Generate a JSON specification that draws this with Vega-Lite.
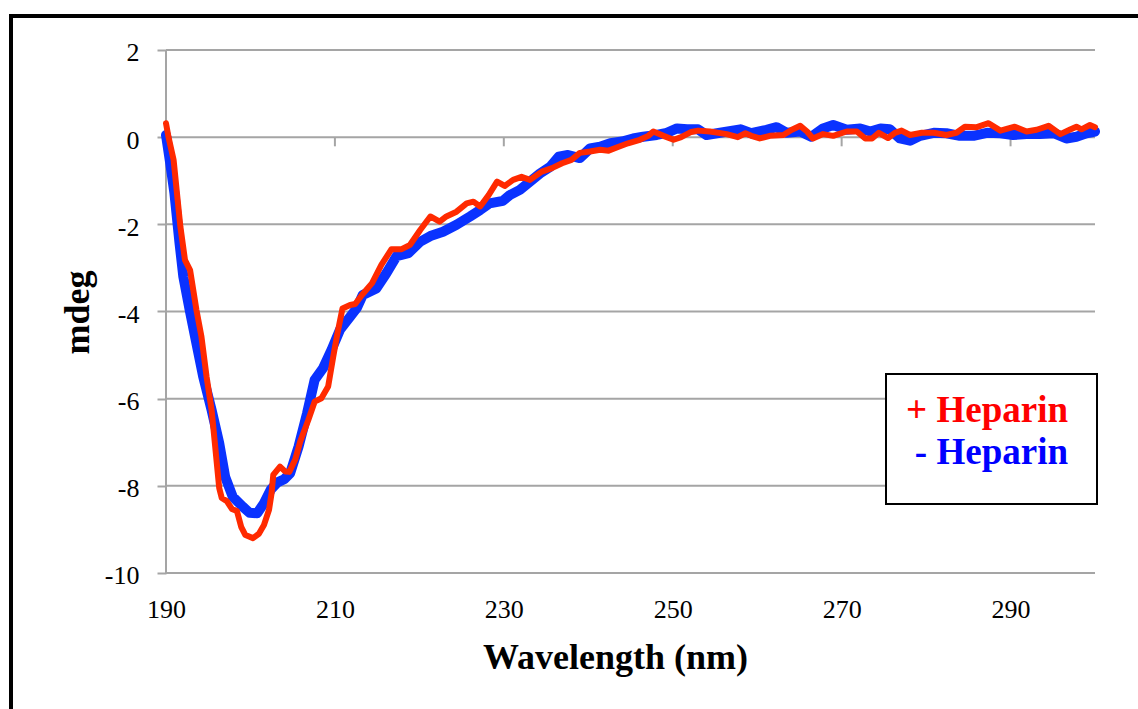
{
  "$schema": "https://vega.github.io/schema/vega-lite/v6.json",
  "width": 1127,
  "height": 693,
  "autosize": {"type": "none"},
  "padding": {"left": 11, "top": 16, "right": 0, "bottom": 0},
  "background": "white",
  "view": {"stroke": "#000000", "strokeWidth": 4, "strokeDash": [1127, 1820, 693, 1], "strokeCap": "square", "fill": "white"},
  "datasets": {
    "cd": [
      {"nm": 190.0, "mdeg": 0.05, "series": "- Heparin"},
      {"nm": 190.5, "mdeg": -0.6, "series": "- Heparin"},
      {"nm": 191.0, "mdeg": -1.29, "series": "- Heparin"},
      {"nm": 191.6, "mdeg": -2.43, "series": "- Heparin"},
      {"nm": 192.05, "mdeg": -3.2, "series": "- Heparin"},
      {"nm": 192.8, "mdeg": -3.96, "series": "- Heparin"},
      {"nm": 193.6, "mdeg": -4.73, "series": "- Heparin"},
      {"nm": 194.4, "mdeg": -5.49, "series": "- Heparin"},
      {"nm": 195.4, "mdeg": -6.26, "series": "- Heparin"},
      {"nm": 196.3, "mdeg": -7.02, "series": "- Heparin"},
      {"nm": 197.0, "mdeg": -7.79, "series": "- Heparin"},
      {"nm": 197.9, "mdeg": -8.25, "series": "- Heparin"},
      {"nm": 199.1, "mdeg": -8.48, "series": "- Heparin"},
      {"nm": 199.9, "mdeg": -8.62, "series": "- Heparin"},
      {"nm": 200.8, "mdeg": -8.63, "series": "- Heparin"},
      {"nm": 201.6, "mdeg": -8.4, "series": "- Heparin"},
      {"nm": 202.4, "mdeg": -8.09, "series": "- Heparin"},
      {"nm": 203.2, "mdeg": -7.92, "series": "- Heparin"},
      {"nm": 204.0, "mdeg": -7.85, "series": "- Heparin"},
      {"nm": 204.7, "mdeg": -7.71, "series": "- Heparin"},
      {"nm": 205.7, "mdeg": -7.1, "series": "- Heparin"},
      {"nm": 206.7, "mdeg": -6.34, "series": "- Heparin"},
      {"nm": 207.6, "mdeg": -5.57, "series": "- Heparin"},
      {"nm": 208.6, "mdeg": -5.3, "series": "- Heparin"},
      {"nm": 209.6, "mdeg": -4.88, "series": "- Heparin"},
      {"nm": 210.6, "mdeg": -4.42, "series": "- Heparin"},
      {"nm": 211.8, "mdeg": -4.12, "series": "- Heparin"},
      {"nm": 212.6, "mdeg": -3.92, "series": "- Heparin"},
      {"nm": 213.3, "mdeg": -3.62, "series": "- Heparin"},
      {"nm": 214.9, "mdeg": -3.47, "series": "- Heparin"},
      {"nm": 216.1, "mdeg": -3.12, "series": "- Heparin"},
      {"nm": 217.3, "mdeg": -2.73, "series": "- Heparin"},
      {"nm": 218.7, "mdeg": -2.66, "series": "- Heparin"},
      {"nm": 220.1, "mdeg": -2.4, "series": "- Heparin"},
      {"nm": 221.3, "mdeg": -2.27, "series": "- Heparin"},
      {"nm": 222.8, "mdeg": -2.17, "series": "- Heparin"},
      {"nm": 224.4, "mdeg": -2.01, "series": "- Heparin"},
      {"nm": 226.0, "mdeg": -1.82, "series": "- Heparin"},
      {"nm": 227.2, "mdeg": -1.67, "series": "- Heparin"},
      {"nm": 228.3, "mdeg": -1.52, "series": "- Heparin"},
      {"nm": 229.9, "mdeg": -1.46, "series": "- Heparin"},
      {"nm": 230.7, "mdeg": -1.33, "series": "- Heparin"},
      {"nm": 231.9, "mdeg": -1.21, "series": "- Heparin"},
      {"nm": 233.1, "mdeg": -1.02, "series": "- Heparin"},
      {"nm": 234.3, "mdeg": -0.83, "series": "- Heparin"},
      {"nm": 235.5, "mdeg": -0.68, "series": "- Heparin"},
      {"nm": 236.5, "mdeg": -0.45, "series": "- Heparin"},
      {"nm": 237.6, "mdeg": -0.41, "series": "- Heparin"},
      {"nm": 239.0, "mdeg": -0.48, "series": "- Heparin"},
      {"nm": 240.2, "mdeg": -0.26, "series": "- Heparin"},
      {"nm": 241.4, "mdeg": -0.22, "series": "- Heparin"},
      {"nm": 242.6, "mdeg": -0.14, "series": "- Heparin"},
      {"nm": 244.0, "mdeg": -0.1, "series": "- Heparin"},
      {"nm": 245.3, "mdeg": -0.03, "series": "- Heparin"},
      {"nm": 246.5, "mdeg": 0.01, "series": "- Heparin"},
      {"nm": 248.1, "mdeg": 0.05, "series": "- Heparin"},
      {"nm": 249.3, "mdeg": 0.1, "series": "- Heparin"},
      {"nm": 250.5, "mdeg": 0.2, "series": "- Heparin"},
      {"nm": 251.7, "mdeg": 0.18, "series": "- Heparin"},
      {"nm": 253.0, "mdeg": 0.18, "series": "- Heparin"},
      {"nm": 254.0, "mdeg": 0.05, "series": "- Heparin"},
      {"nm": 255.6, "mdeg": 0.1, "series": "- Heparin"},
      {"nm": 258.0, "mdeg": 0.18, "series": "- Heparin"},
      {"nm": 259.3, "mdeg": 0.09, "series": "- Heparin"},
      {"nm": 261.1, "mdeg": 0.17, "series": "- Heparin"},
      {"nm": 262.3, "mdeg": 0.23, "series": "- Heparin"},
      {"nm": 263.5, "mdeg": 0.1, "series": "- Heparin"},
      {"nm": 265.1, "mdeg": 0.13, "series": "- Heparin"},
      {"nm": 266.4, "mdeg": 0.01, "series": "- Heparin"},
      {"nm": 267.8, "mdeg": 0.2, "series": "- Heparin"},
      {"nm": 269.0, "mdeg": 0.28, "series": "- Heparin"},
      {"nm": 270.6, "mdeg": 0.17, "series": "- Heparin"},
      {"nm": 272.2, "mdeg": 0.2, "series": "- Heparin"},
      {"nm": 273.4, "mdeg": 0.13, "series": "- Heparin"},
      {"nm": 274.6, "mdeg": 0.2, "series": "- Heparin"},
      {"nm": 275.7, "mdeg": 0.18, "series": "- Heparin"},
      {"nm": 276.9, "mdeg": -0.03, "series": "- Heparin"},
      {"nm": 278.1, "mdeg": -0.08, "series": "- Heparin"},
      {"nm": 279.3, "mdeg": 0.03, "series": "- Heparin"},
      {"nm": 280.9, "mdeg": 0.1, "series": "- Heparin"},
      {"nm": 282.4, "mdeg": 0.09, "series": "- Heparin"},
      {"nm": 284.0, "mdeg": 0.03, "series": "- Heparin"},
      {"nm": 285.6, "mdeg": 0.03, "series": "- Heparin"},
      {"nm": 287.2, "mdeg": 0.1, "series": "- Heparin"},
      {"nm": 288.8, "mdeg": 0.09, "series": "- Heparin"},
      {"nm": 290.3, "mdeg": 0.05, "series": "- Heparin"},
      {"nm": 291.9, "mdeg": 0.07, "series": "- Heparin"},
      {"nm": 293.5, "mdeg": 0.07, "series": "- Heparin"},
      {"nm": 295.1, "mdeg": 0.09, "series": "- Heparin"},
      {"nm": 296.6, "mdeg": -0.03, "series": "- Heparin"},
      {"nm": 297.8, "mdeg": 0.01, "series": "- Heparin"},
      {"nm": 299.0, "mdeg": 0.09, "series": "- Heparin"},
      {"nm": 300.0, "mdeg": 0.13, "series": "- Heparin"},

      {"nm": 190.0, "mdeg": 0.32, "series": "+ Heparin"},
      {"nm": 190.3, "mdeg": 0.0, "series": "+ Heparin"},
      {"nm": 190.9, "mdeg": -0.52, "series": "+ Heparin"},
      {"nm": 191.3, "mdeg": -1.29, "series": "+ Heparin"},
      {"nm": 191.7, "mdeg": -2.05, "series": "+ Heparin"},
      {"nm": 192.25, "mdeg": -2.82, "series": "+ Heparin"},
      {"nm": 192.85, "mdeg": -3.05, "series": "+ Heparin"},
      {"nm": 193.6, "mdeg": -3.96, "series": "+ Heparin"},
      {"nm": 194.2, "mdeg": -4.58, "series": "+ Heparin"},
      {"nm": 194.8, "mdeg": -5.49, "series": "+ Heparin"},
      {"nm": 195.4, "mdeg": -6.26, "series": "+ Heparin"},
      {"nm": 195.8, "mdeg": -7.05, "series": "+ Heparin"},
      {"nm": 196.3, "mdeg": -8.05, "series": "+ Heparin"},
      {"nm": 196.6, "mdeg": -8.28, "series": "+ Heparin"},
      {"nm": 197.2, "mdeg": -8.35, "series": "+ Heparin"},
      {"nm": 197.8, "mdeg": -8.53, "series": "+ Heparin"},
      {"nm": 198.4, "mdeg": -8.58, "series": "+ Heparin"},
      {"nm": 198.9, "mdeg": -8.94, "series": "+ Heparin"},
      {"nm": 199.4, "mdeg": -9.13, "series": "+ Heparin"},
      {"nm": 200.3, "mdeg": -9.2, "series": "+ Heparin"},
      {"nm": 201.0, "mdeg": -9.1, "series": "+ Heparin"},
      {"nm": 201.6, "mdeg": -8.9, "series": "+ Heparin"},
      {"nm": 202.2, "mdeg": -8.55, "series": "+ Heparin"},
      {"nm": 202.5, "mdeg": -8.17, "series": "+ Heparin"},
      {"nm": 202.7, "mdeg": -7.75, "series": "+ Heparin"},
      {"nm": 203.5, "mdeg": -7.56, "series": "+ Heparin"},
      {"nm": 204.1, "mdeg": -7.67, "series": "+ Heparin"},
      {"nm": 204.6, "mdeg": -7.68, "series": "+ Heparin"},
      {"nm": 205.3, "mdeg": -7.4, "series": "+ Heparin"},
      {"nm": 205.9, "mdeg": -6.98, "series": "+ Heparin"},
      {"nm": 206.85, "mdeg": -6.49, "series": "+ Heparin"},
      {"nm": 207.6, "mdeg": -6.07, "series": "+ Heparin"},
      {"nm": 208.4, "mdeg": -5.99, "series": "+ Heparin"},
      {"nm": 209.2, "mdeg": -5.72, "series": "+ Heparin"},
      {"nm": 209.8, "mdeg": -5.04, "series": "+ Heparin"},
      {"nm": 210.3, "mdeg": -4.5, "series": "+ Heparin"},
      {"nm": 210.9, "mdeg": -3.93, "series": "+ Heparin"},
      {"nm": 211.8, "mdeg": -3.85, "series": "+ Heparin"},
      {"nm": 212.4, "mdeg": -3.83, "series": "+ Heparin"},
      {"nm": 213.2, "mdeg": -3.62, "series": "+ Heparin"},
      {"nm": 214.4, "mdeg": -3.35, "series": "+ Heparin"},
      {"nm": 215.5, "mdeg": -2.93, "series": "+ Heparin"},
      {"nm": 216.7, "mdeg": -2.57, "series": "+ Heparin"},
      {"nm": 217.9, "mdeg": -2.57, "series": "+ Heparin"},
      {"nm": 218.9, "mdeg": -2.47, "series": "+ Heparin"},
      {"nm": 220.1, "mdeg": -2.13, "series": "+ Heparin"},
      {"nm": 221.3, "mdeg": -1.82, "series": "+ Heparin"},
      {"nm": 222.4, "mdeg": -1.94, "series": "+ Heparin"},
      {"nm": 223.2, "mdeg": -1.82, "series": "+ Heparin"},
      {"nm": 224.4, "mdeg": -1.71, "series": "+ Heparin"},
      {"nm": 225.6, "mdeg": -1.52, "series": "+ Heparin"},
      {"nm": 226.4, "mdeg": -1.48, "series": "+ Heparin"},
      {"nm": 227.2, "mdeg": -1.59, "series": "+ Heparin"},
      {"nm": 228.2, "mdeg": -1.33, "series": "+ Heparin"},
      {"nm": 229.2, "mdeg": -1.02, "series": "+ Heparin"},
      {"nm": 230.1, "mdeg": -1.12, "series": "+ Heparin"},
      {"nm": 231.1, "mdeg": -0.98, "series": "+ Heparin"},
      {"nm": 232.1, "mdeg": -0.91, "series": "+ Heparin"},
      {"nm": 233.1, "mdeg": -0.98, "series": "+ Heparin"},
      {"nm": 234.5, "mdeg": -0.79, "series": "+ Heparin"},
      {"nm": 235.7, "mdeg": -0.71, "series": "+ Heparin"},
      {"nm": 236.9, "mdeg": -0.6, "series": "+ Heparin"},
      {"nm": 238.0, "mdeg": -0.52, "series": "+ Heparin"},
      {"nm": 239.0, "mdeg": -0.36, "series": "+ Heparin"},
      {"nm": 240.2, "mdeg": -0.33, "series": "+ Heparin"},
      {"nm": 241.4, "mdeg": -0.29, "series": "+ Heparin"},
      {"nm": 242.4, "mdeg": -0.31, "series": "+ Heparin"},
      {"nm": 243.6, "mdeg": -0.22, "series": "+ Heparin"},
      {"nm": 244.7, "mdeg": -0.14, "series": "+ Heparin"},
      {"nm": 246.1, "mdeg": -0.06, "series": "+ Heparin"},
      {"nm": 247.1, "mdeg": 0.03, "series": "+ Heparin"},
      {"nm": 247.7, "mdeg": 0.13, "series": "+ Heparin"},
      {"nm": 248.9, "mdeg": 0.03, "series": "+ Heparin"},
      {"nm": 250.1, "mdeg": -0.06, "series": "+ Heparin"},
      {"nm": 251.0, "mdeg": 0.0, "series": "+ Heparin"},
      {"nm": 252.2, "mdeg": 0.12, "series": "+ Heparin"},
      {"nm": 253.0, "mdeg": 0.15, "series": "+ Heparin"},
      {"nm": 254.4, "mdeg": 0.13, "series": "+ Heparin"},
      {"nm": 256.4, "mdeg": 0.07, "series": "+ Heparin"},
      {"nm": 257.7, "mdeg": 0.0, "series": "+ Heparin"},
      {"nm": 258.6, "mdeg": 0.09, "series": "+ Heparin"},
      {"nm": 259.3, "mdeg": 0.03, "series": "+ Heparin"},
      {"nm": 260.3, "mdeg": -0.03, "series": "+ Heparin"},
      {"nm": 261.5, "mdeg": 0.03, "series": "+ Heparin"},
      {"nm": 263.1, "mdeg": 0.05, "series": "+ Heparin"},
      {"nm": 264.1, "mdeg": 0.17, "series": "+ Heparin"},
      {"nm": 265.1, "mdeg": 0.26, "series": "+ Heparin"},
      {"nm": 265.9, "mdeg": 0.13, "series": "+ Heparin"},
      {"nm": 266.6, "mdeg": -0.03, "series": "+ Heparin"},
      {"nm": 267.8, "mdeg": 0.07, "series": "+ Heparin"},
      {"nm": 269.0, "mdeg": 0.03, "series": "+ Heparin"},
      {"nm": 270.6, "mdeg": 0.13, "series": "+ Heparin"},
      {"nm": 271.8, "mdeg": 0.13, "series": "+ Heparin"},
      {"nm": 272.8, "mdeg": -0.03, "series": "+ Heparin"},
      {"nm": 273.6, "mdeg": -0.03, "series": "+ Heparin"},
      {"nm": 274.4, "mdeg": 0.1, "series": "+ Heparin"},
      {"nm": 275.5, "mdeg": -0.02, "series": "+ Heparin"},
      {"nm": 276.3, "mdeg": 0.1, "series": "+ Heparin"},
      {"nm": 277.1, "mdeg": 0.15, "series": "+ Heparin"},
      {"nm": 278.1, "mdeg": 0.05, "series": "+ Heparin"},
      {"nm": 279.5, "mdeg": 0.1, "series": "+ Heparin"},
      {"nm": 280.9, "mdeg": 0.1, "series": "+ Heparin"},
      {"nm": 282.4, "mdeg": 0.05, "series": "+ Heparin"},
      {"nm": 283.6, "mdeg": 0.1, "series": "+ Heparin"},
      {"nm": 284.6, "mdeg": 0.24, "series": "+ Heparin"},
      {"nm": 286.0, "mdeg": 0.23, "series": "+ Heparin"},
      {"nm": 287.4, "mdeg": 0.32, "series": "+ Heparin"},
      {"nm": 288.8, "mdeg": 0.15, "series": "+ Heparin"},
      {"nm": 290.5, "mdeg": 0.24, "series": "+ Heparin"},
      {"nm": 291.9, "mdeg": 0.13, "series": "+ Heparin"},
      {"nm": 293.1, "mdeg": 0.17, "series": "+ Heparin"},
      {"nm": 294.5, "mdeg": 0.26, "series": "+ Heparin"},
      {"nm": 295.9, "mdeg": 0.07, "series": "+ Heparin"},
      {"nm": 297.0, "mdeg": 0.17, "series": "+ Heparin"},
      {"nm": 297.8, "mdeg": 0.24, "series": "+ Heparin"},
      {"nm": 298.4, "mdeg": 0.18, "series": "+ Heparin"},
      {"nm": 299.4, "mdeg": 0.28, "series": "+ Heparin"},
      {"nm": 300.0, "mdeg": 0.23, "series": "+ Heparin"}
    ],
    "gridlines": [
      {"mdeg": -10}, {"mdeg": -8}, {"mdeg": -6}, {"mdeg": -4}, {"mdeg": -2}, {"mdeg": 0}, {"mdeg": 2}
    ],
    "zeroTicks": [
      {"nm": 210}, {"nm": 230}, {"nm": 250}, {"nm": 270}, {"nm": 290}
    ]
  },
  "layer": [
    {
      "data": {"name": "gridlines"},
      "mark": {"type": "rule", "color": "#a5a5a5", "strokeWidth": 2},
      "encoding": {
        "y": {"field": "mdeg", "type": "quantitative"},
        "x": {"datum": 190, "type": "quantitative"},
        "x2": {"datum": 300}
      }
    },
    {
      "data": {"values": [{"nm": 190}]},
      "mark": {"type": "rule", "color": "#a5a5a5", "strokeWidth": 2},
      "encoding": {
        "x": {"field": "nm", "type": "quantitative"},
        "y": {"datum": -10, "type": "quantitative"},
        "y2": {"datum": 2}
      }
    },
    {
      "data": {"name": "zeroTicks"},
      "mark": {"type": "rule", "color": "#a5a5a5", "strokeWidth": 2},
      "encoding": {
        "x": {"field": "nm", "type": "quantitative"},
        "y": {"datum": 0, "type": "quantitative"},
        "y2": {"datum": -0.21}
      }
    },
    {
      "data": {"name": "cd"},
      "transform": [{"filter": "datum.series === '- Heparin'"}],
      "mark": {"type": "line", "strokeWidth": 10, "strokeJoin": "round", "strokeCap": "round"},
      "encoding": {
        "x": {
          "field": "nm", "type": "quantitative",
          "scale": {"domain": [171.647, 305.091], "nice": false, "zero": false},
          "axis": {
            "offset": -136, "values": [190, 210, 230, 250, 270, 290],
            "domain": false, "ticks": false, "grid": false,
            "labelFont": "Liberation Serif", "labelFontSize": 26, "labelColor": "#000000",
            "labelPadding": 23, "labelFlush": false, "labelOverlap": false,
            "title": "Wavelength (nm)", "titleFont": "Liberation Serif", "titleFontSize": 36,
            "titleFontWeight": "bold", "titleColor": "#000000",
            "titleX": 604, "titleY": 95, "titleAlign": "center", "titleBaseline": "alphabetic"
          }
        },
        "y": {
          "field": "mdeg", "type": "quantitative",
          "scale": {"domain": [-13.121, 2.7801], "nice": false, "zero": false},
          "axis": {
            "offset": -155, "values": [-10, -8, -6, -4, -2, 0, 2],
            "labelExpr": "replace(datum.label, '\u2212', '-')",
            "domain": false, "grid": false, "ticks": true, "tickSize": 9,
            "tickColor": "#a5a5a5", "tickWidth": 2,
            "labelFont": "Liberation Serif", "labelFontSize": 26, "labelColor": "#000000",
            "labelPadding": 18, "labelOffset": 3,
            "title": "mdeg", "titleFont": "Liberation Serif", "titleFontSize": 36,
            "titleFontWeight": "bold", "titleColor": "#000000",
            "titleAngle": -90, "titleX": -78, "titleY": 296, "titleAlign": "center", "titleBaseline": "alphabetic"
          }
        },
        "color": {
          "field": "series", "type": "nominal",
          "scale": {"domain": ["+ Heparin", "- Heparin"], "range": ["#ff2a00", "#0a32ff"]},
          "legend": {
            "orient": "none", "legendX": 875, "legendY": 358,
            "padding": 18, "rowPadding": 4,
            "strokeColor": "#000000", "fillColor": "#ffffff",
            "symbolType": "square", "symbolOpacity": 0, "symbolFillColor": "#ffffff",
            "symbolSize": 4, "symbolStrokeWidth": 0, "symbolOffset": 155,
            "labelOffset": -28, "labelLimit": 0, "labelAlign": "right",
            "labelFont": "Liberation Serif", "labelFontSize": 37, "labelFontWeight": "bold",
            "labelColor": {"expr": "datum.label === '+ Heparin' ? '#ff0000' : '#0000ff'"},
            "title": "\u00a0",
            "titleOrient": "bottom", "titleAnchor": "start", "titleFontSize": 11, "titlePadding": 4,
            "titleFont": "Liberation Serif"
          }
        }
      }
    },
    {
      "data": {"name": "cd"},
      "transform": [{"filter": "datum.series === '+ Heparin'"}],
      "mark": {"type": "line", "strokeWidth": 6, "strokeJoin": "round", "strokeCap": "round"},
      "encoding": {
        "x": {"field": "nm", "type": "quantitative"},
        "y": {"field": "mdeg", "type": "quantitative"},
        "color": {"field": "series", "type": "nominal"}
      }
    }
  ],
  "config": {
    "legend": {"strokeWidth": 2}
  }
}
